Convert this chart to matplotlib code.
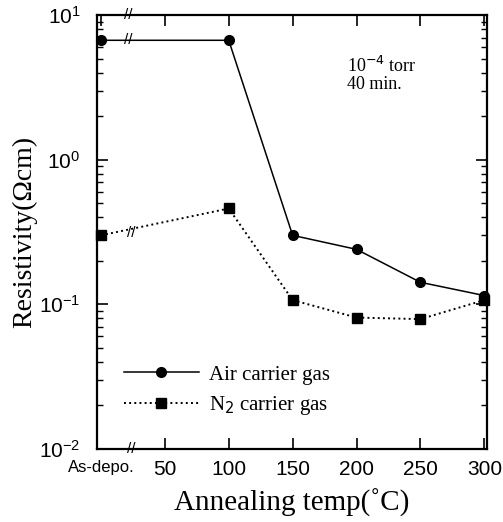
import matplotlib
matplotlib.use("Agg")
from matplotlib import pyplot as plt
from matplotlib.ticker import LogLocator, NullFormatter

temps = [0, 100, 150, 200, 250, 300]
air = [6.7, 6.7, 0.30, 0.24, 0.142, 0.115]
n2 = [0.30, 0.46, 0.107, 0.081, 0.079, 0.107]
xtick_vals = [0, 50, 100, 150, 200, 250, 300]
xtick_labels = ["As-depo.", "50", "100", "150", "200", "250", "300"]

serif = "Liberation Serif"
sans = "Liberation Sans"

fig = plt.figure(figsize=(5.03, 5.22), dpi=100)
ax = fig.add_axes([0.193, 0.140, 0.775, 0.831])

ax.plot(temps, air, "-", color="black", lw=1.1, marker="o", ms=7,
        label="Air carrier gas", clip_on=False, zorder=3)
ax.plot(temps, n2, ":", color="black", lw=1.4, marker="s", ms=6.5,
        label="N$_2$ carrier gas", clip_on=False, zorder=3)

ax.set_yscale("log")
ax.set_ylim(0.01, 10)
ax.set_xlim(-3, 302)

ax.yaxis.set_major_locator(LogLocator(base=10))
ax.yaxis.set_minor_locator(LogLocator(base=10, subs=range(2, 10)))
ax.yaxis.set_minor_formatter(NullFormatter())

ax.set_xticks(xtick_vals)
ax.set_xticklabels(xtick_labels)
ax.xaxis.get_major_ticks()[0].tick1line.set_visible(False)
ax.xaxis.get_major_ticks()[0].tick2line.set_visible(False)

ax.tick_params(which="both", direction="in", top=True, right=True)
ax.tick_params(which="major", length=8, width=1.2, labelsize=15)
ax.tick_params(which="minor", length=4, width=1.0)
ax.tick_params(axis="x", which="major", pad=8)
ax.tick_params(axis="y", which="major", pad=12)
for lbl in ax.get_xticklabels() + ax.get_yticklabels():
    lbl.set_fontfamily(sans)
ax.get_xticklabels()[0].set_fontsize(12)

for sp in ax.spines.values():
    sp.set_linewidth(1.6)

ax.set_xlabel("Annealing temp(˚C)", fontfamily=serif, fontsize=21, labelpad=7)
ax.set_ylabel("Resistivity(Ωcm)", fontfamily=serif, fontsize=20, labelpad=1)

# axis break marks
for xb, yb in [(24, 0.01), (21, 10), (21, 6.7), (24, 0.31)]:
    ax.text(xb, yb, "//", ha="center", va="center", fontsize=11,
            fontfamily=sans, clip_on=False, zorder=4)

ax.text(0.64, 0.905, "10$^{-4}$ torr\n40 min.", transform=ax.transAxes,
        ha="left", va="top", fontfamily=serif, fontsize=13, linespacing=0.95)

ax.legend(loc="lower left", bbox_to_anchor=(0.02, 0.03), frameon=False,
          handlelength=3.6, handletextpad=0.5, numpoints=1, labelspacing=0.45,
          prop={"family": serif, "size": 15})

fig.savefig("out.png", dpi=100)
